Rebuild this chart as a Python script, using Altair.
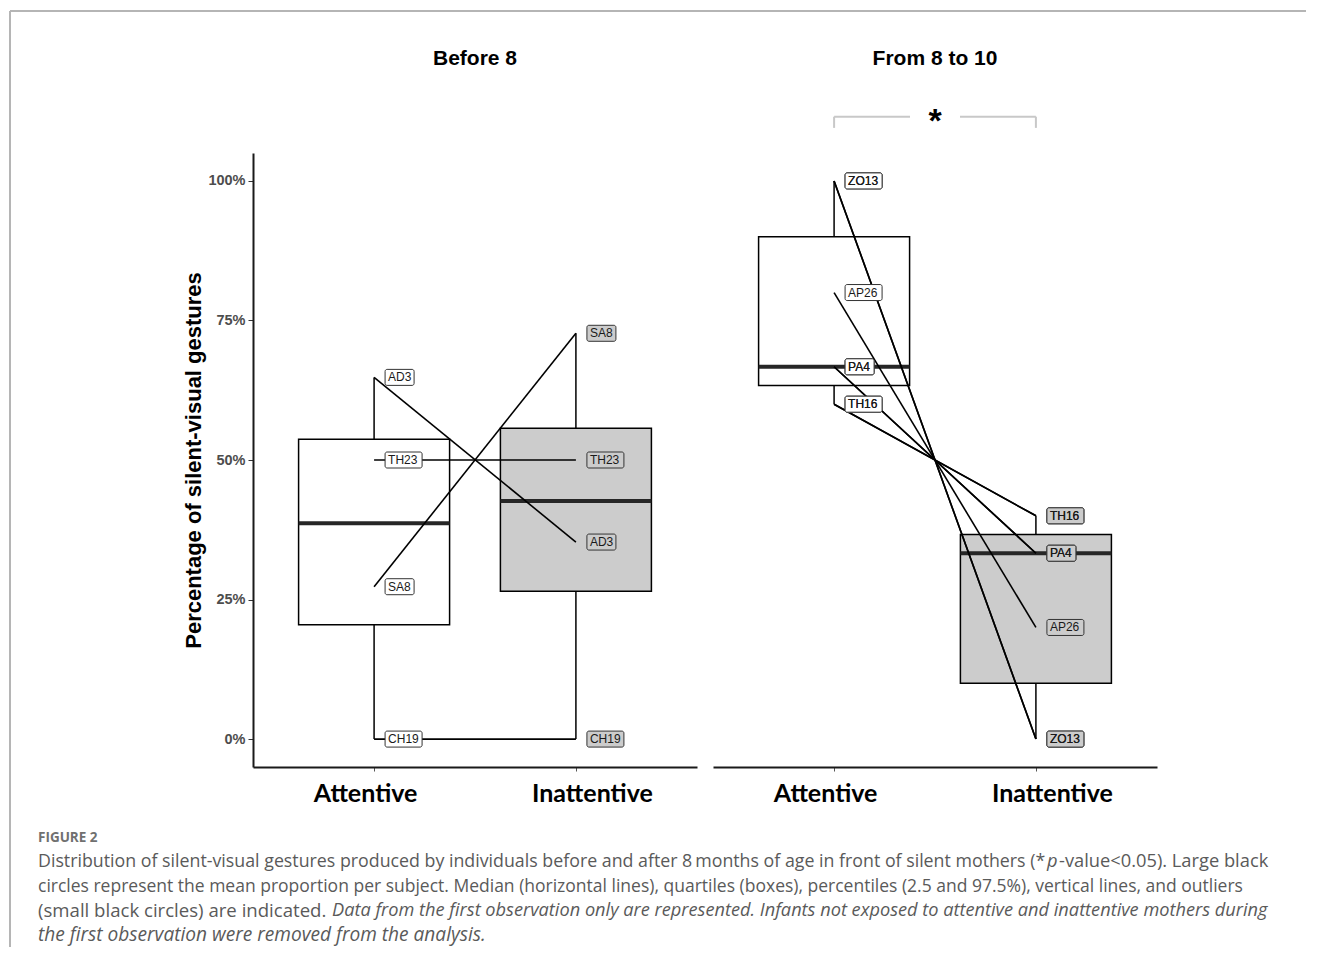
import altair as alt
import pandas as pd

# ---------------- data ----------------
groups = ["Attentive", "Inattentive"]
group_pos = [1, 2]

before_subjects = ["AD3", "TH23", "SA8", "CH19"]
before_attentive = [0.648, 0.50, 0.273, 0.0]
before_inattentive = [0.353, 0.50, 0.727, 0.0]

after_subjects = ["ZO13", "ZO13", "AP26", "PA4", "PA4", "TH16", "TH16"]
after_attentive = [1.0, 1.0, 0.80, 0.667, 0.667, 0.60, 0.60]
after_inattentive = [0.0, 0.0, 0.20, 0.333, 0.333, 0.40, 0.40]

panel_titles = ["Before 8", "From 8 to 10"]
y_ticks = [0, 0.25, 0.5, 0.75, 1.0]
y_title = "Percentage of silent-visual gestures"
signif_text = "*"

caption_head = "FIGURE 2"
cap1a = "Distribution of silent-visual gestures produced by individuals before and after 8\u2009months of age in front of silent mothers (*"
cap1b = "p"
cap1c = "-value<0.05). Large black"
cap2 = "circles represent the mean proportion per subject. Median (horizontal lines), quartiles (boxes), percentiles (2.5 and 97.5%), vertical lines, and outliers"
cap3a = "(small black circles) are indicated."
cap3b = "Data from the first observation only are represented. Infants not exposed to attentive and inattentive mothers during"
cap4 = "the first observation were removed from the analysis."


def long_df(subjects, att, inatt):
    rows = []
    for i, s in enumerate(subjects):
        rows.append({"pair": i, "subject": s, "group": groups[0], "xn": group_pos[0], "value": att[i]})
        rows.append({"pair": i, "subject": s, "group": groups[1], "xn": group_pos[1], "value": inatt[i]})
    return pd.DataFrame(rows)


df_before = long_df(before_subjects, before_attentive, before_inattentive)
df_after = long_df(after_subjects, after_attentive, after_inattentive)
bracket_df = pd.DataFrame([{"x1": group_pos[0], "x2": group_pos[1], "xm": sum(group_pos) / 2,
                            "y": 1.115, "yend": 1.095, "t": signif_text}])

# ---------------- styling ----------------
W, H = 444, 614
BOX_HALF = 75.5
xscale = alt.Scale(domain=[0.4, 2.6], nice=False, zero=False)
yscale = alt.Scale(domain=[-0.05, 1.05], nice=False, zero=False)
label_expr = f"datum.value == 1 ? '{groups[0]}' : '{groups[1]}'"

xaxis = alt.Axis(values=group_pos, labelExpr=label_expr, grid=False, title=None,
                 domainColor="#1a1a1a", domainWidth=2, tickColor="#555", tickSize=4, tickWidth=1,
                 labelFont="Lato", labelFontWeight="bold", labelFontSize=25, labelColor="black",
                 labelPadding=10,
                 labelOffset={"condition": {"test": "datum.value == 1", "value": -9}, "value": 16})

yaxis_on = alt.Axis(values=y_ticks, format=".0%", grid=False, title=y_title,
                    domainColor="#1a1a1a", domainWidth=2, tickColor="#333", tickSize=5, tickWidth=1,
                    labelFont="Liberation Sans", labelFontWeight="bold", labelFontSize=14.5,
                    labelColor="#4d4d4d", labelPadding=3,
                    titleFont="Liberation Sans", titleFontWeight="bold", titleFontSize=22,
                    titleColor="black", titlePadding=2)

box_fill = alt.Scale(domain=groups, range=["white", "#cccccc"])
label_fill = alt.Scale(domain=groups, range=["white", "#d6d6d6"])


def make_panel(df, title, show_y, extra):
    yaxis = yaxis_on if show_y else None

    def X(f):
        return alt.X(f"{f}:Q", scale=xscale, axis=xaxis)

    def Y(f):
        return alt.Y(f"{f}:Q", scale=yscale, axis=yaxis)

    base = alt.Chart(df)
    stats = base.transform_aggregate(
        lo="min(value)", q1="q1(value)", med="median(value)", q3="q3(value)", hi="max(value)",
        groupby=["group", "xn"])

    whisk_lo = stats.mark_rule(color="black", strokeWidth=1.5).encode(x=X("xn"), y=Y("lo"), y2="q1:Q")
    whisk_hi = stats.mark_rule(color="black", strokeWidth=1.5).encode(x=X("xn"), y=Y("q3"), y2="hi:Q")
    box = stats.mark_rect(xOffset=-BOX_HALF, x2Offset=BOX_HALF, stroke="black", strokeWidth=1.5).encode(
        x=X("xn"), x2="xn:Q", y=Y("q1"), y2="q3:Q",
        fill=alt.Fill("group:N", scale=box_fill, legend=None))
    median = stats.mark_rule(color="#262626", strokeWidth=4, xOffset=-BOX_HALF, x2Offset=BOX_HALF).encode(
        x=X("xn"), x2="xn:Q", y=Y("med"))

    lines = base.mark_line(color="black", strokeWidth=1.6).encode(
        x=X("xn"), y=Y("value"), detail="pair:N")

    lab = base.transform_calculate(n="length(datum.subject)")
    rect3 = lab.transform_filter("datum.n == 3").mark_rect(
        xOffset=11, x2Offset=40, yOffset=-8, y2Offset=8, stroke="#333", strokeWidth=1, cornerRadius=2
    ).encode(x=X("xn"), x2="xn:Q", y=Y("value"), y2="value:Q",
             fill=alt.Fill("group:N", scale=label_fill, legend=None))
    rect4 = lab.transform_filter("datum.n == 4").mark_rect(
        xOffset=11, x2Offset=48, yOffset=-8, y2Offset=8, stroke="#333", strokeWidth=1, cornerRadius=2
    ).encode(x=X("xn"), x2="xn:Q", y=Y("value"), y2="value:Q",
             fill=alt.Fill("group:N", scale=label_fill, legend=None))
    texts = base.mark_text(align="left", baseline="middle", dx=14, font="Liberation Sans",
                           fontSize=12, color="#1a1a1a").encode(
        x=X("xn"), y=Y("value"), text="subject:N")

    ttl = alt.Chart(pd.DataFrame({"t": [title]})).mark_text(
        font="Liberation Sans", fontSize=21, fontWeight="bold", align="center", baseline="middle",
        color="black").encode(x=alt.value(W / 2), y=alt.value(-94), text="t:N")

    layers = [box, whisk_lo, whisk_hi, median, lines, rect3, rect4, texts, ttl] + extra(X, Y)
    return alt.layer(*layers).properties(width=W, height=H)


def before_extra(X, Y):
    border_col = "#b5b5b5"
    one = pd.DataFrame({"k": [0]})
    top = alt.Chart(one).mark_rule(color=border_col, strokeWidth=2).encode(
        x=alt.value(-243), x2=alt.value(1053), y=alt.value(-142))
    left = alt.Chart(one).mark_rule(color=border_col, strokeWidth=2).encode(
        x=alt.value(-243), y=alt.value(-142), y2=alt.value(794))

    def cap(text, x, y, style="normal", weight="normal", size=17.7, color="#5a5a5a", font="Open Sans"):
        return alt.Chart(pd.DataFrame({"t": [text]})).mark_text(
            align="left", baseline="middle", font=font, fontSize=size, fontStyle=style,
            fontWeight=weight, color=color).encode(x=alt.value(x), y=alt.value(y), text="t:N")

    caps = [
        cap(caption_head, -215, 685, weight="bold", size=13.5, color="#707070"),
        cap(cap1a, -215, 709, size=17.8),
        cap(cap1b, 794, 709, style="italic", size=18.3),
        cap(cap1c, 806, 709, size=18.3),
        cap(cap2, -215, 733.5, size=17.5),
        cap(cap3a, -215, 758, size=18.6),
        cap(cap3b, 79, 758, style="italic", size=18.2),
        cap(cap4, -215, 782, style="italic", size=19.1),
    ]
    return [top, left] + caps


def after_extra(X, Y):
    b = alt.Chart(bracket_df)
    col = "#c8c8c8"
    h1 = b.mark_rule(color=col, strokeWidth=2, x2Offset=-25).encode(x=X("x1"), x2="xm:Q", y=Y("y"))
    h2 = b.mark_rule(color=col, strokeWidth=2, xOffset=25).encode(x=X("xm"), x2="x2:Q", y=Y("y"))
    v1 = b.mark_rule(color=col, strokeWidth=2).encode(x=X("x1"), y=Y("y"), y2="yend:Q")
    v2 = b.mark_rule(color=col, strokeWidth=2).encode(x=X("x2"), y=Y("y"), y2="yend:Q")
    star = b.mark_text(font="Liberation Sans", fontWeight="bold", fontSize=34, align="center",
                       baseline="alphabetic", dy=15, color="black").encode(
        x=X("xm"), y=Y("y"), text="t:N")
    return [h1, h2, v1, v2, star]


p1 = make_panel(df_before, panel_titles[0], True, before_extra)
p2 = make_panel(df_after, panel_titles[1], False, after_extra)

chart = alt.hconcat(p1, p2, spacing=16, bounds="flush").properties(
    padding={"left": 1, "top": 2, "right": 0, "bottom": 0}
).configure(font="Liberation Sans", background="white").configure_view(stroke=None)

chart.save("out.html", embed_options={"renderer": "svg", "actions": False})
